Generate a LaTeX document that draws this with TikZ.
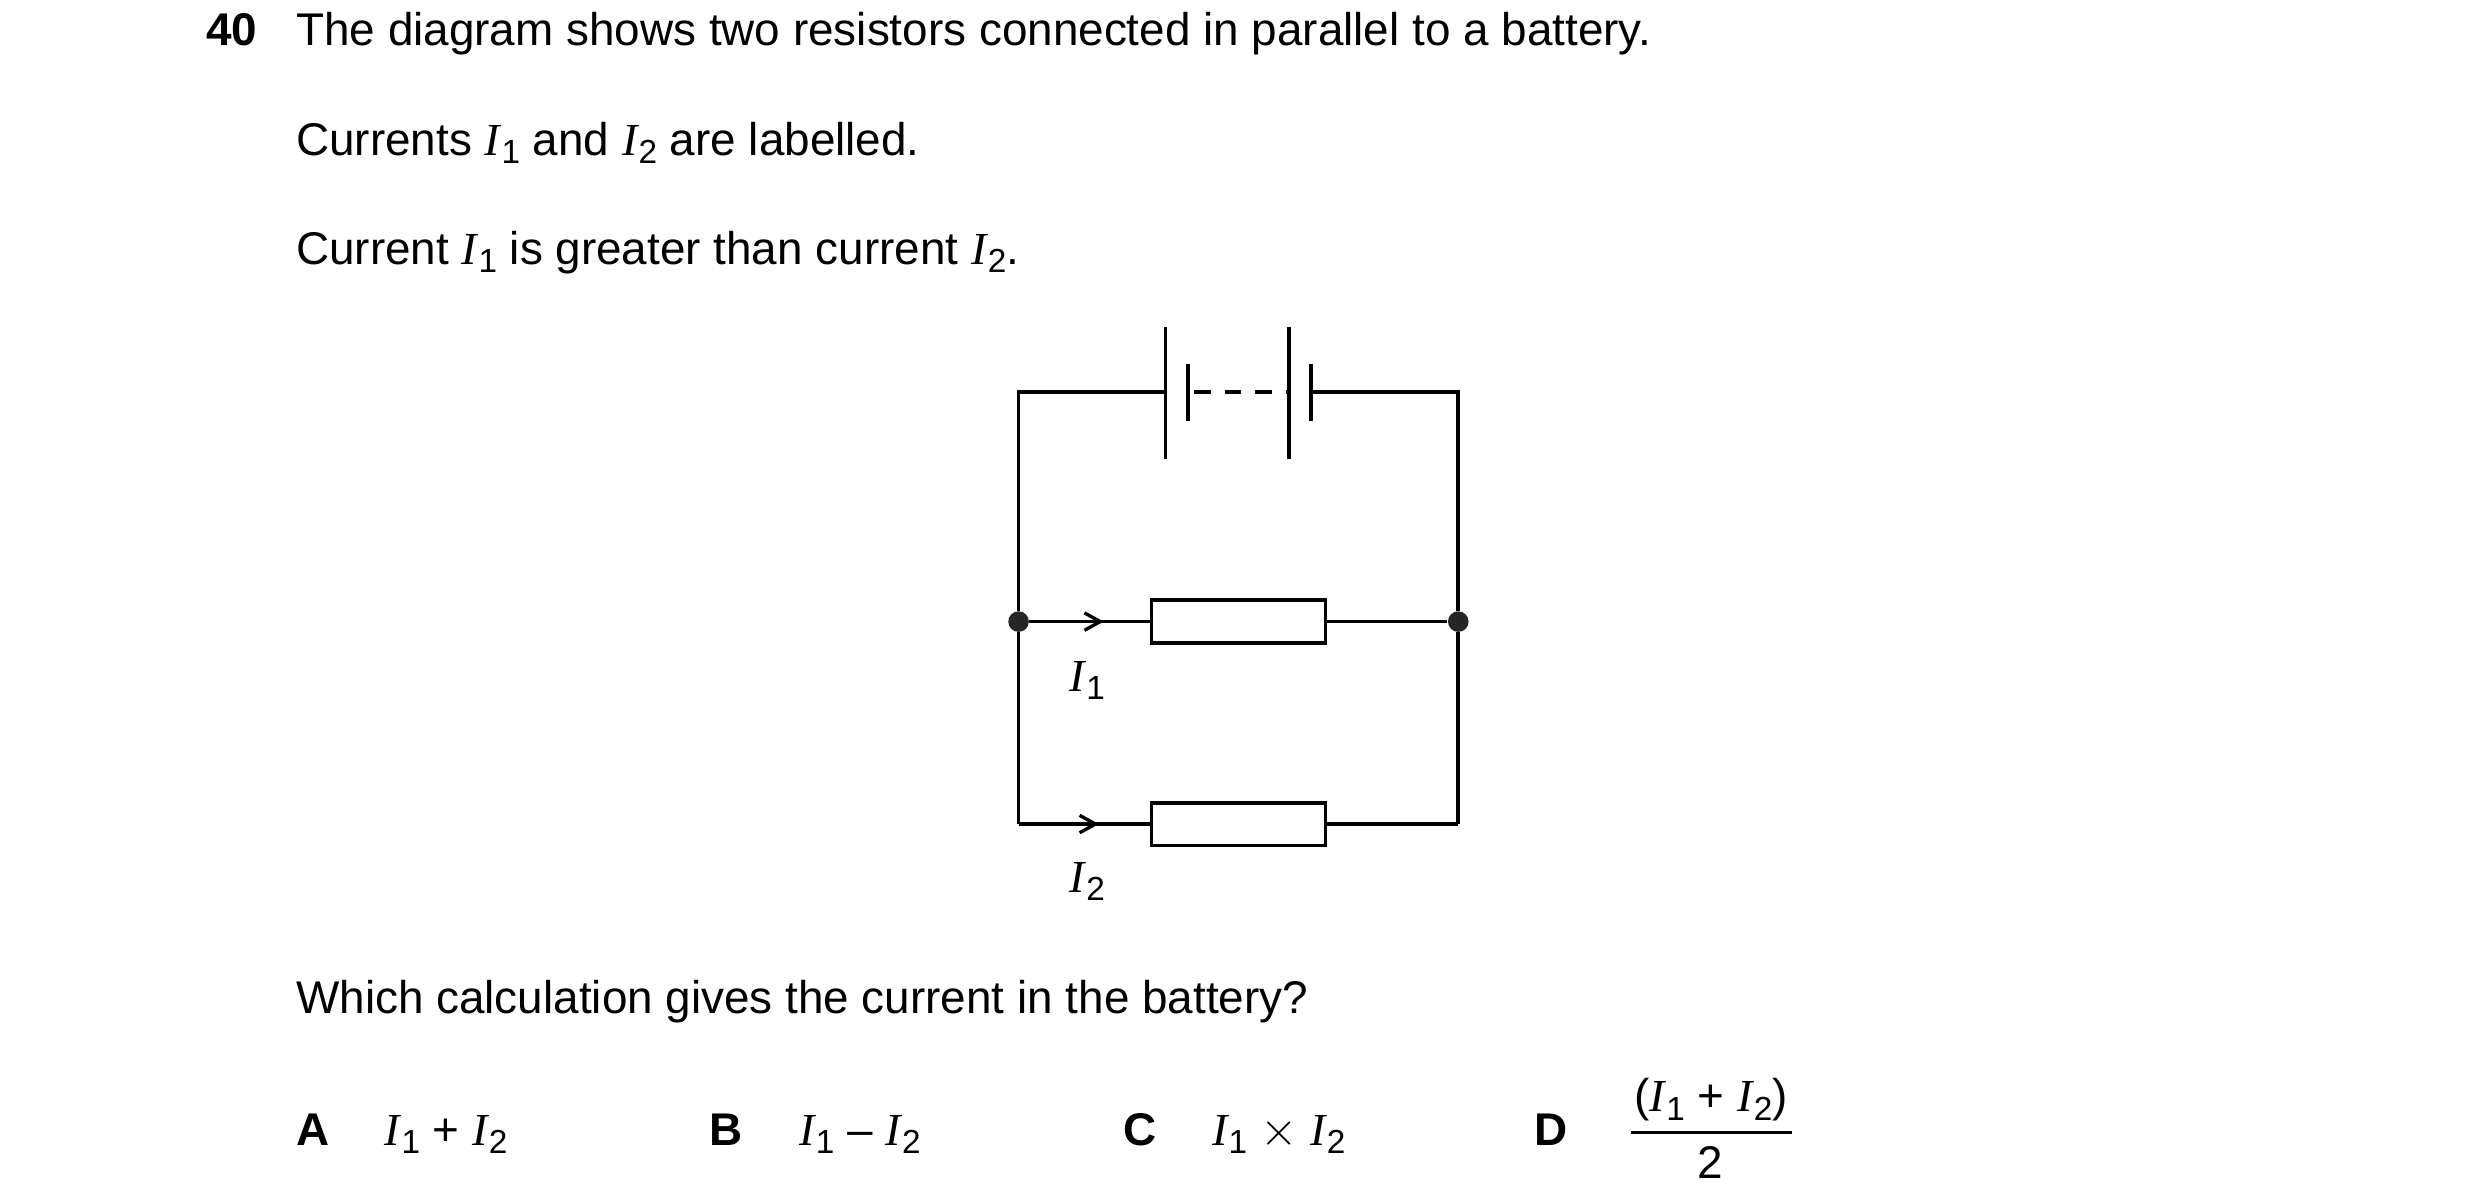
\documentclass[tikz,border=0pt]{standalone}
\usepackage{fontspec}
\setmainfont{Liberation Sans}
\newfontfamily\serf{Liberation Serif}
\usetikzlibrary{decorations.markings}
\newcommand\cur[1]{{\serf\itshape I}\kern0.03em\raisebox{-0.35ex}{\fontsize{12}{12}\selectfont #1}}
\begin{document}
\begin{tikzpicture}[x=0.02cm,y=-0.02cm,
  txt/.style={anchor=base west,inner sep=0,font=\fontsize{16.5}{19}\selectfont},
  w/.style={line width=1.3pt},
  res/.style={draw,line width=1.3pt,minimum width=2.2cm,minimum height=0.54cm,inner sep=0},
  dot/.style={circle,fill=black!85,inner sep=0,minimum size=0.26cm},
  arr/.style={postaction={decorate},decoration={markings,mark=at position 0.55 with {\draw[line width=1.2pt] (-7,-5.5)--(3,0)--(-7,5.5);}}}]
\useasboundingbox (0,0) rectangle (1568,752);
% text
\node[txt,font=\fontsize{16.5}{19}\selectfont\bfseries] (n40) at (130,29) {40};
\node[txt] (t1) at (187,29) {The diagram shows two resistors connected in parallel to a battery.};
\node[txt] (t2) at (187,98) {Currents \cur{1} and \cur{2} are labelled.};
\node[txt] (t3) at (187,167) {Current \cur{1} is greater than current \cur{2}.};
\node[txt] (t4) at (187,641) {Which calculation gives the current in the battery?};
\node[txt,font=\fontsize{16.5}{19}\selectfont\bfseries] (oa) at (187,724) {A};
\node[txt] (ea) at (243,724) {\cur{1} + \cur{2}};
\node[txt,font=\fontsize{16.5}{19}\selectfont\bfseries] (ob) at (448,724) {B};
\node[txt] (eb) at (505,724) {\cur{1} -- \cur{2}};
\node[txt,font=\fontsize{16.5}{19}\selectfont\bfseries] (oc) at (710,724) {C};
\node[txt] (ec) at (766,724) {\cur{1} $\times$ \cur{2}};
\node[txt,font=\fontsize{16.5}{19}\selectfont\bfseries] (od) at (970,724) {D};
\node[txt] (dn) at (1033,703) {({\cur{1}} + \cur{2})};
\node[txt] (dd) at (1073,745) {2};
\draw[line width=0.9pt] (1031,716) -- (1133,716);
% circuit
\coordinate (tl) at (644,248); \coordinate (tr) at (922,248);
\coordinate (b1) at (737,248); \coordinate (b2) at (829,248);
\node[dot] (jl) at (644,393) {}; \node[dot] (jr) at (922,393) {};
\coordinate (bl) at (644,521); \coordinate (br) at (922,521);
\node[res] (r1) at (783,393) {};
\node[res] (r2) at (783,521) {};
\draw[w] (b1) -- (tl) -- (jl) -- (bl);
\draw[w] (b2) -- (tr) -- (jr) -- (br);
\draw[w] (737,207) -- (737,290);
\draw[w] (751,230) -- (751,266);
\draw[w] (815,207) -- (815,290);
\draw[w] (829,230) -- (829,266);
\draw[w,dash pattern=on 6pt off 5pt] (755,248) -- (813,248);
\draw[w,arr] (jl) -- (r1.west);
\draw[w] (r1.east) -- (jr);
\draw[w,arr] (bl) -- (r2.west);
\draw[w] (r2.east) -- (br);
\node[txt] (l1) at (676,437) {\cur{1}};
\node[txt] (l2) at (676,564) {\cur{2}};
\end{tikzpicture}
\end{document}
